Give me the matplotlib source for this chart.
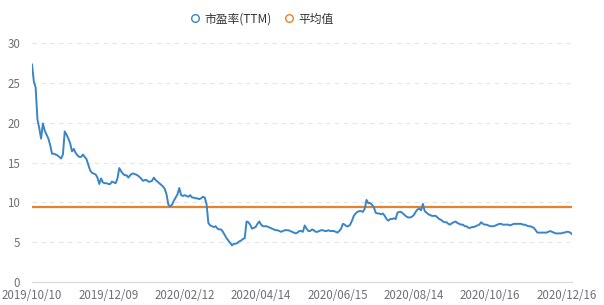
import numpy as np
import matplotlib
matplotlib.use("Agg")
import matplotlib.pyplot as plt
from matplotlib.lines import Line2D

plt.rcParams['font.family'] = ['Noto Sans CJK SC', 'DejaVu Sans']

series_name = "市盈率(TTM)"
avg_name = "平均值"

pe_ttm = [
    27.3, 25.2, 24.4, 20.4, 19.3, 18.0, 19.9, 19.0, 18.5, 18.0,
    17.2, 16.1, 16.1, 16.0, 15.9, 15.7, 15.5, 16.0, 18.9, 18.5,
    18.0, 17.4, 16.4, 16.7, 16.2, 15.9, 15.7, 15.7, 16.0, 15.7,
    15.4, 14.7, 14.0, 13.7, 13.6, 13.5, 13.1, 12.3, 13.0, 12.5,
    12.4, 12.4, 12.3, 12.3, 12.6, 12.5, 12.4, 13.0, 14.3, 13.9,
    13.6, 13.4, 13.4, 13.1, 13.4, 13.6, 13.6, 13.5, 13.4, 13.2,
    13.0, 12.7, 12.8, 12.8, 12.6, 12.6, 12.7, 13.1, 12.8, 12.6,
    12.4, 12.2, 12.0, 11.7, 11.0, 9.7, 9.5, 9.7, 10.2, 10.6,
    11.0, 11.8, 10.9, 10.8, 10.9, 10.8, 10.7, 10.9, 10.6, 10.6,
    10.5, 10.5, 10.4, 10.5, 10.7, 10.6, 9.8, 7.4, 7.1, 7.0,
    6.9, 7.0, 6.7, 6.6, 6.6, 6.3, 5.9, 5.5, 5.2, 4.9,
    4.6, 4.8, 4.8, 4.9, 5.1, 5.2, 5.4, 5.5, 7.6, 7.5,
    7.2, 6.7, 6.8, 6.9, 7.3, 7.6, 7.2, 7.0, 7.0, 7.0,
    6.9, 6.8, 6.7, 6.6, 6.5, 6.5, 6.4, 6.3, 6.4, 6.5,
    6.5, 6.5, 6.4, 6.3, 6.2, 6.1, 6.2, 6.4, 6.4, 6.3,
    7.1, 6.7, 6.4, 6.4, 6.6, 6.5, 6.3, 6.3, 6.4, 6.5,
    6.5, 6.4, 6.4, 6.5, 6.4, 6.4, 6.4, 6.3, 6.2, 6.4,
    6.7, 7.3, 7.2, 7.0, 7.0, 7.2, 7.7, 8.3, 8.6, 8.8,
    8.9, 8.9, 8.8, 9.2, 10.3, 9.9, 9.9, 9.7, 9.4, 8.7,
    8.6, 8.6, 8.5, 8.6, 8.3, 7.9, 7.7, 7.9, 7.9, 8.0,
    7.9, 8.7, 8.8, 8.8, 8.6, 8.4, 8.2, 8.1, 8.1, 8.2,
    8.4, 8.8, 9.1, 9.2, 9.0, 9.8, 8.9, 8.7, 8.5, 8.4,
    8.3, 8.3, 8.3, 8.1, 7.9, 7.8, 7.6, 7.5, 7.5, 7.3,
    7.2, 7.4, 7.5, 7.6, 7.4, 7.3, 7.2, 7.2, 7.0, 7.0,
    6.8, 6.8, 6.9, 6.9, 7.0, 7.1, 7.2, 7.5, 7.3, 7.2,
    7.2, 7.1, 7.0, 7.0, 7.0, 7.1, 7.2, 7.3, 7.3, 7.2,
    7.2, 7.2, 7.2, 7.1, 7.2, 7.3, 7.3, 7.3, 7.3, 7.3,
    7.2, 7.2, 7.1, 7.0, 7.0, 6.9, 6.8, 6.5, 6.2, 6.2,
    6.2, 6.2, 6.2, 6.2, 6.3, 6.4, 6.3, 6.2, 6.1, 6.1,
    6.1, 6.1, 6.2, 6.2, 6.3, 6.3, 6.2, 6.0,
]
average_value = 9.37

tick_labels = ["2019/10/10", "2019/12/09", "2020/02/12", "2020/04/14",
               "2020/06/15", "2020/08/14", "2020/10/16", "2020/12/16"]
label_interval = 42

y_ticks = [0, 5, 10, 15, 20, 25, 30]

blue = "#3a85c6"
orange = "#e9812a"
grid_col = "#e0e6f1"
text_col = "#6e7079"

W, H = 604, 305
fig = plt.figure(figsize=(W / 100, H / 100), dpi=100)
ax = fig.add_axes([32 / W, 23 / H, 540 / W, 239 / H])

x = np.arange(len(pe_ttm))
ax.plot(x, pe_ttm, color=blue, lw=1.4, solid_joinstyle='round', zorder=3)
ax.plot([x[0], x[-1]], [average_value, average_value], color=orange, lw=1.6, zorder=2)

ax.set_xlim(0, len(pe_ttm) - 1)
ax.set_ylim(0, 30)
ax.set_yticks(y_ticks)
ax.set_yticklabels([str(v) for v in y_ticks])
ax.set_xticks(np.arange(len(tick_labels)) * label_interval)
ax.set_xticklabels(tick_labels)

for v in y_ticks[1:]:
    ax.axhline(v, color=grid_col, lw=0.8, ls=(0, (4, 4)), zorder=1)

for s in ['top', 'right', 'left']:
    ax.spines[s].set_visible(False)
ax.spines['bottom'].set_color("#d5d8de")
ax.spines['bottom'].set_linewidth(0.8)

ax.tick_params(axis='y', length=0, pad=8.5, labelsize=8.3, labelcolor=text_col)
ax.tick_params(axis='x', length=0, pad=5, labelsize=8.3, labelcolor=text_col)

handles = [
    Line2D([], [], marker='o', ls='none', markersize=5.5, markerfacecolor='white',
           markeredgecolor=blue, markeredgewidth=1.0),
    Line2D([], [], marker='o', ls='none', markersize=5.5, markerfacecolor='white',
           markeredgecolor=orange, markeredgewidth=1.0),
]
fig.legend(handles, [series_name, avg_name], loc='center', bbox_to_anchor=(262 / W, 1 - 19 / H),
           ncol=2, frameon=False, fontsize=8.5, handlelength=0.8, handletextpad=0.4,
           columnspacing=1.0, labelcolor="#333333")

fig.savefig("out.png", dpi=100)
